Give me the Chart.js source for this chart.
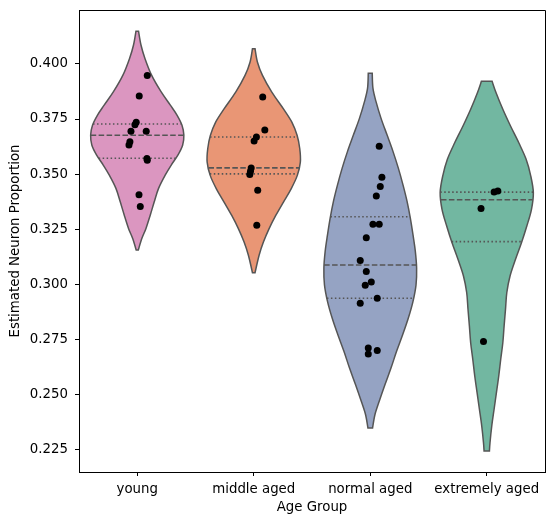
<!DOCTYPE html>
<html>
<head>
<meta charset="utf-8">
<script src="https://cdn.jsdelivr.net/npm/chart.js@4.4.1/dist/chart.umd.min.js"></script>
<style>
  html, body { margin: 0; padding: 0; background: #fff; }
  #wrap { width: 553px; height: 525px; position: relative; }
</style>
</head>
<body>
<div id="wrap"><canvas id="c"></canvas></div>
<script>
// ---- data ----
const categories = ['young', 'middle aged', 'normal aged', 'extremely aged'];
const yTickValues = [0.225, 0.250, 0.275, 0.300, 0.325, 0.350, 0.375, 0.400];

// individual observations (value) and their horizontal jitter (category units)
const youngValues  = [0.3948, 0.3854, 0.3735, 0.3724, 0.3694, 0.3694, 0.3647, 0.3632, 0.3571, 0.3563, 0.3406, 0.3353];
const youngJitter  = [0.086, 0.017, -0.009, -0.020, -0.054, 0.077, -0.063, -0.071, 0.083, 0.086, 0.015, 0.026];
const middleValues = [0.3850, 0.3700, 0.3668, 0.3650, 0.3528, 0.3513, 0.3498, 0.3427, 0.3268];
const middleJitter = [0.077, 0.095, 0.023, 0.003, -0.022, -0.028, -0.034, 0.034, 0.026];
const normalValues = [0.3626, 0.3485, 0.3444, 0.3400, 0.3272, 0.3272, 0.3211, 0.3108, 0.3058, 0.3010, 0.2995, 0.2936, 0.2913, 0.2710, 0.2699, 0.2683];
const normalJitter = [0.077, 0.100, 0.086, 0.052, 0.023, 0.077, -0.034, -0.086, -0.034, 0.009, -0.043, 0.060, -0.086, -0.017, 0.060, -0.017];
const extremeValues = [0.3418, 0.3423, 0.3344, 0.2740];
const extremeJitter = [0.063, 0.095, -0.049, -0.028];

// quartile lines (per category)
const q1Values     = [0.3572, 0.3501, 0.2936, 0.3193];
const medianValues = [0.3676, 0.3528, 0.3087, 0.3383];
const q3Values     = [0.3727, 0.3668, 0.3306, 0.3418];

// violin outlines: levels (value) and half-widths (category units), top to bottom
const youngLevels  = [0.4149, 0.4086, 0.4025, 0.3949, 0.3874, 0.3813, 0.3768, 0.3722, 0.3677, 0.3632, 0.3587, 0.3541, 0.3496, 0.3435, 0.3374, 0.3314, 0.3253, 0.3208, 0.3155];
const youngWidths  = [0.011, 0.032, 0.066, 0.123, 0.204, 0.284, 0.341, 0.384, 0.400, 0.390, 0.350, 0.292, 0.241, 0.183, 0.146, 0.112, 0.075, 0.040, 0.009];
const middleLevels = [0.4069, 0.4008, 0.3948, 0.3872, 0.3796, 0.3736, 0.3676, 0.3615, 0.3554, 0.3494, 0.3433, 0.3373, 0.3312, 0.3252, 0.3191, 0.3131, 0.3052];
const middleWidths = [0.011, 0.032, 0.075, 0.155, 0.255, 0.327, 0.372, 0.395, 0.400, 0.374, 0.321, 0.255, 0.189, 0.132, 0.083, 0.046, 0.011];
const normalLevels = [0.3958, 0.3890, 0.3830, 0.3754, 0.3678, 0.3603, 0.3527, 0.3451, 0.3376, 0.3300, 0.3224, 0.3149, 0.3073, 0.2997, 0.2922, 0.2846, 0.2770, 0.2695, 0.2619, 0.2543, 0.2468, 0.2407, 0.2347];
const normalWidths = [0.017, 0.023, 0.049, 0.092, 0.144, 0.195, 0.241, 0.281, 0.316, 0.344, 0.367, 0.387, 0.398, 0.393, 0.367, 0.327, 0.278, 0.226, 0.178, 0.126, 0.077, 0.040, 0.020];
const extremeLevels = [0.3921, 0.3869, 0.3794, 0.3718, 0.3642, 0.3567, 0.3491, 0.3415, 0.3340, 0.3264, 0.3188, 0.3113, 0.3037, 0.2961, 0.2886, 0.2810, 0.2734, 0.2659, 0.2583, 0.2507, 0.2432, 0.2356, 0.2280, 0.2242];
const extremeWidths = [0.046, 0.080, 0.138, 0.204, 0.275, 0.338, 0.378, 0.400, 0.384, 0.344, 0.298, 0.247, 0.200, 0.172, 0.161, 0.149, 0.138, 0.120, 0.103, 0.083, 0.063, 0.043, 0.028, 0.023];

const yMin = 0.2147, yMax = 0.4245;

// ---- styling ----
const violinColors = ['#DB96C0', '#E99675', '#95A3C3', '#72B7A1'];
const lineGray = '#555555';
const FONT = 'DejaVu Sans';
Chart.defaults.font.family = FONT;
Chart.defaults.font.size = 13.33;
Chart.defaults.color = '#000';

const groupValues = [youngValues, middleValues, normalValues, extremeValues];
const groupJitter = [youngJitter, middleJitter, normalJitter, extremeJitter];
const groupLevels = [youngLevels, middleLevels, normalLevels, extremeLevels];
const groupWidths = [youngWidths, middleWidths, normalWidths, extremeWidths];

const points = [];
groupValues.forEach((vals, i) => {
  vals.forEach((v, j) => points.push({ x: i + groupJitter[i][j], y: v }));
});

function widthAt(levels, widths, v) {
  for (let k = 0; k < levels.length - 1; k++) {
    const a = levels[k], b = levels[k + 1];
    if ((v <= a && v >= b)) {
      const t = (a - v) / (a - b);
      return widths[k] + t * (widths[k + 1] - widths[k]);
    }
  }
  return 0;
}

function smooth(ctx, pts) {
  for (let k = 0; k < pts.length - 1; k++) {
    const p0 = pts[Math.max(k - 1, 0)], p1 = pts[k], p2 = pts[k + 1], p3 = pts[Math.min(k + 2, pts.length - 1)];
    ctx.bezierCurveTo(
      p1.x + (p2.x - p0.x) / 6, p1.y + (p2.y - p0.y) / 6,
      p2.x - (p3.x - p1.x) / 6, p2.y - (p3.y - p1.y) / 6,
      p2.x, p2.y);
  }
}

const violinPlugin = {
  id: 'violins',
  beforeDatasetsDraw(chart) {
    const ctx = chart.ctx, xs = chart.scales.x, ys = chart.scales.y, area = chart.chartArea;
    ctx.save();
    ctx.beginPath();
    ctx.rect(area.left, area.top, area.right - area.left, area.bottom - area.top);
    ctx.clip();
    groupLevels.forEach((levels, i) => {
      const widths = groupWidths[i];
      const right = levels.map((v, k) => ({ x: xs.getPixelForValue(i + widths[k]), y: ys.getPixelForValue(v) }));
      const left = levels.map((v, k) => ({ x: xs.getPixelForValue(i - widths[k]), y: ys.getPixelForValue(v) })).reverse();
      ctx.beginPath();
      ctx.moveTo(right[0].x, right[0].y);
      smooth(ctx, right);
      ctx.lineTo(left[0].x, left[0].y);
      smooth(ctx, left);
      ctx.closePath();
      ctx.fillStyle = violinColors[i];
      ctx.fill();
      ctx.lineWidth = 1.5;
      ctx.strokeStyle = lineGray;
      ctx.setLineDash([]);
      ctx.stroke();

      const lines = [
        { v: q1Values[i], dash: [1.5, 2.475] },
        { v: medianValues[i], dash: [5.55, 2.4] },
        { v: q3Values[i], dash: [1.5, 2.475] }
      ];
      lines.forEach(l => {
        const hw = widthAt(levels, widths, l.v);
        const y = ys.getPixelForValue(l.v);
        ctx.beginPath();
        ctx.setLineDash(l.dash);
        ctx.lineWidth = 1.6;
        ctx.strokeStyle = lineGray;
        ctx.moveTo(xs.getPixelForValue(i - hw), y);
        ctx.lineTo(xs.getPixelForValue(i + hw), y);
        ctx.stroke();
      });
    });
    ctx.restore();
  },
  afterDraw(chart) {
    const ctx = chart.ctx, a = chart.chartArea;
    ctx.save();
    ctx.strokeStyle = '#000';
    ctx.lineWidth = 1;
    ctx.beginPath();
    ctx.moveTo(a.left, a.top + 0.5);
    ctx.lineTo(a.right + 0.5, a.top + 0.5);
    ctx.lineTo(a.right + 0.5, a.bottom);
    ctx.stroke();
    ctx.restore();
  }
};

new Chart(document.getElementById('c'), {
  type: 'scatter',
  data: {
    datasets: [{
      data: points,
      pointRadius: 3.5,
      pointHoverRadius: 3.5,
      backgroundColor: '#000',
      borderWidth: 0
    }]
  },
  options: {
    responsive: true,
    maintainAspectRatio: false,
    animation: false,
    devicePixelRatio: 1,
    layout: { padding: { top: 10, right: 8, left: 0, bottom: 0 } },
    plugins: { legend: { display: false }, tooltip: { enabled: false } },
    scales: {
      x: {
        type: 'linear',
        min: -0.5,
        max: 3.5,
        afterBuildTicks: (s) => { s.ticks = categories.map((c, i) => ({ value: i })); },
        afterFit: (s) => { s.height = 53; s.paddingLeft = 0; s.paddingRight = 0; },
        ticks: {
          callback: (v) => categories[v],
          color: '#000',
          padding: 6,
          maxRotation: 0,
          autoSkip: false
        },
        grid: { drawOnChartArea: false, drawTicks: true, tickLength: 4, tickColor: '#000', tickWidth: 1 },
        border: { color: '#000', width: 1 },
        title: { display: true, text: 'Age Group', color: '#000', padding: { top: 2, bottom: 9 } }
      },
      y: {
        type: 'linear',
        min: yMin,
        max: yMax,
        afterBuildTicks: (s) => { s.ticks = yTickValues.map(v => ({ value: v })); },
        afterFit: (s) => { s.width = 79; s.paddingTop = 0; s.paddingBottom = 0; },
        ticks: {
          callback: (v) => Number(v).toFixed(3),
          color: '#000',
          padding: 7
        },
        grid: { drawOnChartArea: false, drawTicks: true, tickLength: 4, tickColor: '#000', tickWidth: 1 },
        border: { color: '#000', width: 1 },
        title: { display: true, text: 'Estimated Neuron Proportion', color: '#000', padding: { top: 8, bottom: 0 } }
      }
    }
  },
  plugins: [violinPlugin]
});
</script>
</body>
</html>
